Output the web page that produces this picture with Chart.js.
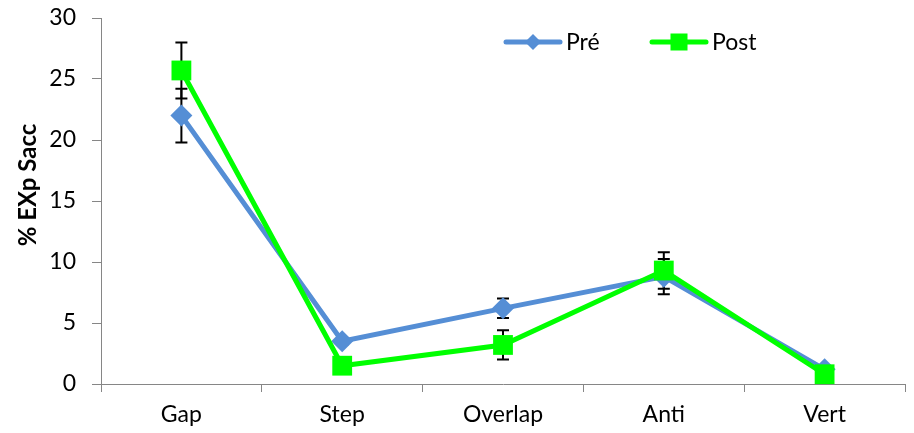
<!DOCTYPE html>
<html><head><meta charset="utf-8">
<script src="https://cdn.jsdelivr.net/npm/chart.js@4.4.1/dist/chart.umd.min.js"></script>
<style>html,body{margin:0;padding:0;background:#fff;}#wrap{width:914px;height:433px;}</style>
</head><body><div id="wrap"><canvas id="c" width="914" height="433"></canvas></div>
<script>
const categories = ['Gap','Step','Overlap','Anti','Vert'];
const preValues = [22.0, 3.5, 6.2, 8.8, 1.2];
const postValues = [25.7, 1.5, 3.2, 9.3, 0.8];
const preErrors = [2.2, 0.3, 0.8, 1.45, 0.3];
const postErrors = [2.3, 0.3, 1.2, 1.5, 0.3];
const seriesNames = ['Pré','Post'];
const yTicks = [0,5,10,15,20,25,30];
const yTitle = '% EXp Sacc';

const BLUE = '#558ED5', GREEN = '#00FF00', AXIS = '#868686';
const FONT = 'Lato';

const errorBars = {
  id: 'errorBars',
  beforeDatasetsDraw(chart) {
    const ctx = chart.ctx, ys = chart.scales.y;
    ctx.save();
    ctx.strokeStyle = '#000'; ctx.lineWidth = 2;
    chart.data.datasets.forEach((ds, di) => {
      const meta = chart.getDatasetMeta(di);
      ds.data.forEach((v, i) => {
        const e = ds.errors[i];
        const x = meta.data[i].x;
        const y1 = ys.getPixelForValue(v + e), y2 = ys.getPixelForValue(v - e);
        ctx.beginPath();
        ctx.moveTo(x, y1); ctx.lineTo(x, y2);
        ctx.moveTo(x - 6, y1); ctx.lineTo(x + 6, y1);
        ctx.moveTo(x - 6, y2); ctx.lineTo(x + 6, y2);
        ctx.stroke();
      });
    });
    ctx.restore();
  }
};

const customLegend = {
  id: 'customLegend',
  afterDraw(chart) {
    const ctx = chart.ctx;
    const items = [
      {x: 506, ds: chart.data.datasets[0]},
      {x: 652, ds: chart.data.datasets[1]}
    ];
    const y = 42;
    ctx.save();
    items.forEach(it => {
      const ds = it.ds;
      ctx.strokeStyle = ds.borderColor; ctx.lineWidth = 5; ctx.lineCap = 'round';
      ctx.beginPath(); ctx.moveTo(it.x, y); ctx.lineTo(it.x + 54, y); ctx.stroke();
      ctx.fillStyle = ds.backgroundColor;
      const cx = it.x + 27;
      if (ds.pointStyle === 'rectRot') {
        ctx.beginPath();
        ctx.moveTo(cx, y - 8); ctx.lineTo(cx + 8, y); ctx.lineTo(cx, y + 8); ctx.lineTo(cx - 8, y);
        ctx.closePath(); ctx.fill();
      } else {
        ctx.fillRect(cx - 8.5, y - 8.5, 17, 17);
      }
      ctx.fillStyle = '#000';
      ctx.font = '23px ' + FONT;
      ctx.textBaseline = 'middle';
      ctx.fillText(ds.label, it.x + 60, y + 1);
    });
    // y-axis title
    ctx.translate(28, 185);
    ctx.rotate(-Math.PI / 2);
    ctx.font = 'bold 24px ' + FONT;
    ctx.textAlign = 'center';
    ctx.textBaseline = 'middle';
    ctx.fillText(yTitle, 0, 0);
    ctx.restore();
  }
};

new Chart(document.getElementById('c'), {
  type: 'line',
  data: {
    labels: categories,
    datasets: [
      {label: seriesNames[0], data: preValues, errors: preErrors, borderColor: BLUE, backgroundColor: BLUE,
       borderWidth: 5, pointStyle: 'rectRot', pointRadius: 11, pointHoverRadius: 11, pointBorderWidth: 0, order: 2, tension: 0, clip: false},
      {label: seriesNames[1], data: postValues, errors: postErrors, borderColor: GREEN, backgroundColor: GREEN,
       borderWidth: 5, pointStyle: 'rect', pointRadius: 14, pointHoverRadius: 14, pointBorderWidth: 0, order: 1, tension: 0, clip: false}
    ]
  },
  options: {
    responsive: false, animation: false,
    layout: {autoPadding: false, padding: {top: 18, right: 9, left: 0, bottom: 0}},
    plugins: {legend: {display: false}, tooltip: {enabled: false}},
    scales: {
      x: {
        offset: true,
        grid: {offset: true, drawOnChartArea: false, drawTicks: true, tickLength: 8, color: AXIS, lineWidth: 1},
        border: {color: AXIS, width: 1},
        ticks: {color: '#000', font: {family: FONT, size: 23}, padding: 9},
        afterFit(s) { s.height = 49; s.paddingLeft = 0; s.paddingRight = 0; }
      },
      y: {
        min: 0, max: 30,
        afterBuildTicks(s) { s.ticks = yTicks.map(v => ({value: v})); },
        grid: {drawOnChartArea: false, drawTicks: true, tickLength: 9, color: AXIS},
        border: {color: AXIS, width: 1},
        ticks: {color: '#000', font: {family: FONT, size: 23}, padding: 16},
        title: {display: false},
        afterFit(s) { s.width = 101; s.paddingTop = 0; s.paddingBottom = 0; }
      }
    }
  },
  plugins: [errorBars, customLegend]
});
</script></body></html>
